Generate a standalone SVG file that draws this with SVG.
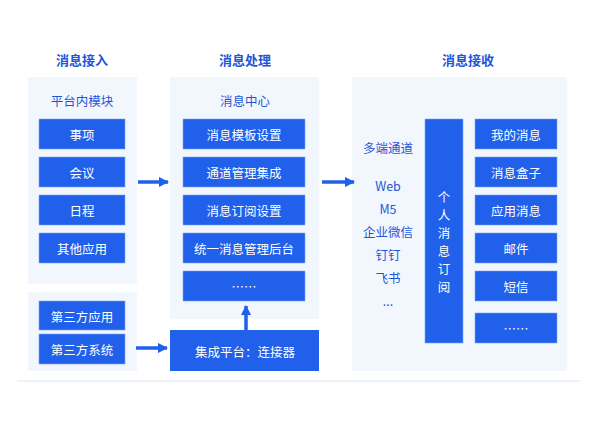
<svg xmlns="http://www.w3.org/2000/svg" width="605" height="428" viewBox="0 0 605 428">
<defs>
<style>
text{font-family:"Noto Sans CJK SC","Liberation Sans",sans-serif;text-anchor:middle;dominant-baseline:central}
.t{fill:#1e56d8;font-size:13px;font-weight:bold}
.p{fill:#f2f6fd}
.b{fill:#2060ea;stroke:#7fa6f5;stroke-width:0.6}
.w{fill:#fff;font-size:12.5px}
.c{fill:#1e56d8;font-size:12.5px}
.a{stroke:#2060ea;stroke-width:3.5;fill:none}
</style>
<marker id="ar" viewBox="0 0 10 10" refX="9" refY="5" markerWidth="3" markerHeight="3" orient="auto"><path d="M0,0L10,5L0,10z" fill="#2060ea"/></marker>
</defs>
<rect width="605" height="428" fill="#fff"/>
<line x1="17" y1="381" x2="580" y2="381" stroke="#eef1f8" stroke-width="2"/>
<text class="t" x="82" y="59">消息接入</text>
<text class="t" x="245" y="59">消息处理</text>
<text class="t" x="468" y="59">消息接收</text>
<g id="access">
<rect class="p" x="28" y="77" width="109" height="207"/>
<text class="c" x="82" y="100">平台内模块</text>
<rect class="b" x="39" y="119" width="86" height="30"/><text class="w" x="82" y="134">事项</text>
<rect class="b" x="39" y="157" width="86" height="30"/><text class="w" x="82" y="172">会议</text>
<rect class="b" x="39" y="195" width="86" height="30"/><text class="w" x="82" y="210">日程</text>
<rect class="b" x="39" y="233" width="86" height="30"/><text class="w" x="82" y="248">其他应用</text>
</g>
<g id="third">
<rect class="p" x="28" y="292" width="109" height="79"/>
<rect class="b" x="39" y="301" width="86" height="29"/><text class="w" x="82" y="316">第三方应用</text>
<rect class="b" x="39" y="334" width="86" height="30"/><text class="w" x="82" y="349">第三方系统</text>
</g>
<g id="process">
<rect class="p" x="170" y="77" width="149" height="242"/>
<text class="c" x="245" y="100">消息中心</text>
<rect class="b" x="183" y="119" width="122" height="30"/><text class="w" x="244" y="134">消息模板设置</text>
<rect class="b" x="183" y="157" width="122" height="30"/><text class="w" x="244" y="172">通道管理集成</text>
<rect class="b" x="183" y="195" width="122" height="30"/><text class="w" x="244" y="210">消息订阅设置</text>
<rect class="b" x="183" y="233" width="122" height="30"/><text class="w" x="244" y="248">统一消息管理后台</text>
<rect class="b" x="183" y="271" width="122" height="30"/><text class="w" x="244" y="286">……</text>
</g>
<g id="integration">
<rect fill="#2060ea" x="170" y="330" width="149" height="41"/>
<text class="w" x="245" y="351">集成平台：连接器</text>
</g>
<g id="receive">
<rect class="p" x="352" y="77" width="215" height="294"/>
<text class="c" x="388" y="147">多端通道</text>
<text class="c" x="388" y="185">Web</text>
<text class="c" x="388" y="208">M5</text>
<text class="c" x="388" y="231">企业微信</text>
<text class="c" x="388" y="254">钉钉</text>
<text class="c" x="388" y="277">飞书</text>
<text class="c" x="388" y="300">...</text>
<rect class="b" x="425" y="119" width="38" height="224"/>
<text class="w" x="444" y="196">个</text>
<text class="w" x="444" y="214">人</text>
<text class="w" x="444" y="232">消</text>
<text class="w" x="444" y="250">息</text>
<text class="w" x="444" y="268">订</text>
<text class="w" x="444" y="286">阅</text>
<rect class="b" x="475" y="119" width="82" height="30"/><text class="w" x="516" y="134">我的消息</text>
<rect class="b" x="475" y="157" width="82" height="30"/><text class="w" x="516" y="172">消息盒子</text>
<rect class="b" x="475" y="195" width="82" height="30"/><text class="w" x="516" y="210">应用消息</text>
<rect class="b" x="475" y="233" width="82" height="30"/><text class="w" x="516" y="248">邮件</text>
<rect class="b" x="475" y="271" width="82" height="30"/><text class="w" x="516" y="286">短信</text>
<rect class="b" x="475" y="313" width="82" height="30"/><text class="w" x="516" y="328">……</text>
</g>
<g id="connectors">
<line class="a" x1="138" y1="182" x2="168" y2="182" marker-end="url(#ar)"/>
<line class="a" x1="136" y1="348" x2="167" y2="348" marker-end="url(#ar)"/>
<line class="a" x1="246" y1="330" x2="246" y2="306" marker-end="url(#ar)"/>
<line class="a" x1="322" y1="182" x2="354" y2="182" marker-end="url(#ar)"/>
</g>
</svg>
